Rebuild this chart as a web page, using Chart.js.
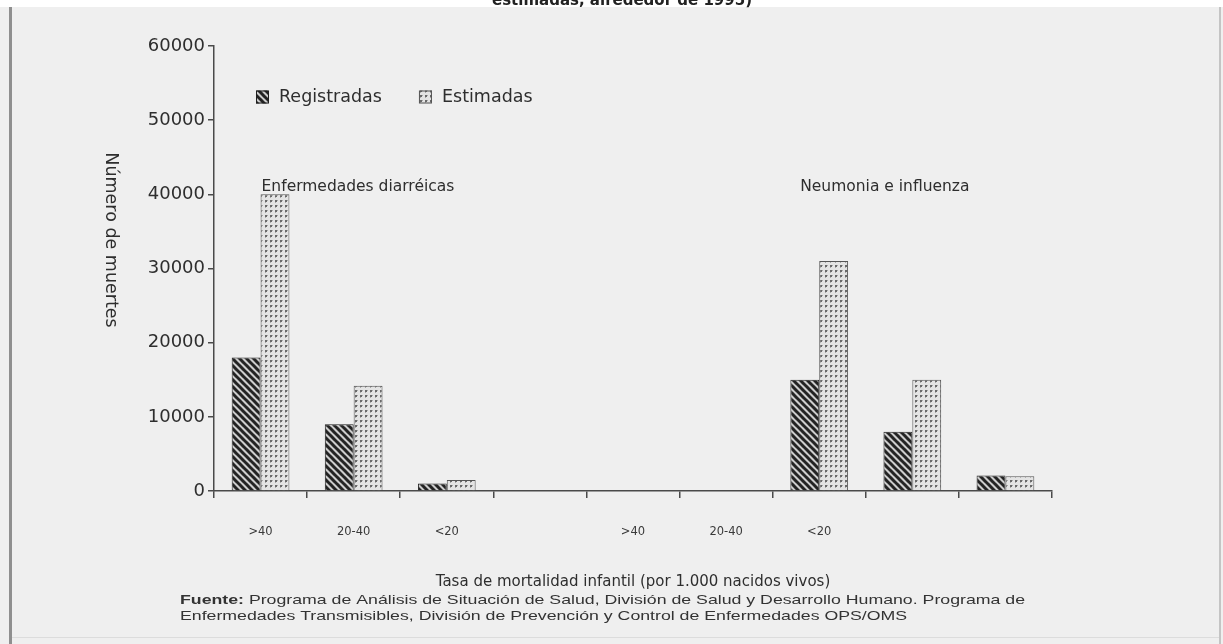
<!DOCTYPE html>
<html>
<head>
<meta charset="utf-8">
<script src="https://cdn.jsdelivr.net/npm/chart.js@4.4.0/dist/chart.umd.min.js"></script>
<style>
  html, body { margin: 0; padding: 0; background: #efefef; overflow: hidden; }
  canvas { display: block; }
</style>
</head>
<body>
<canvas id="c" width="1223" height="644"></canvas>
<script>
// Infant mortality bands for each disease group, with an empty gap between groups
const categories = ['Diarreicas >40', 'Diarreicas 20-40', 'Diarreicas <20', 'gap1', 'gap2', 'gap3',
                    'Neumonía >40', 'Neumonía 20-40', 'Neumonía <20'];
const tickLabels = ['>40', '20-40', '<20', '', '>40', '20-40', '<20', '', ''];
const registradas = [18000, 9000, 1000, null, null, null, 15000, 8000, 2100];
const estimadas   = [40000, 14200, 1500, null, null, null, 31000, 15000, 2000];
const seriesNames = ['Registradas', 'Estimadas'];
const groupNames  = ['Enfermedades diarréicas', 'Neumonia e influenza'];
const yTickValues = [0, 10000, 20000, 30000, 40000, 50000, 60000];

const titleText  = 'estimadas, alrededor de 1995)';
const yTitleText = 'Número de muertes';
const xTitleText = 'Tasa de mortalidad infantil (por 1.000 nacidos vivos)';
const sourceBold = 'Fuente:';
const sourceLine1 = ' Programa de Análisis de Situación de Salud, División de Salud y Desarrollo Humano. Programa de';
const sourceLine2 = 'Enfermedades Transmisibles, División de Prevención y Control de Enfermedades OPS/OMS';

const FONT = "'DejaVu Sans', sans-serif";
const NARROW = "'Liberation Sans', Arial, sans-serif";
const INK = '#2e2e2e';
const AXIS = '#4a4a4a';

const canvas = document.getElementById('c');
const mainCtx = canvas.getContext('2d');

// Diagonal hatching for recorded deaths
function stripePattern() {
  const s = 7;
  const t = document.createElement('canvas');
  t.width = t.height = s;
  const g = t.getContext('2d');
  g.fillStyle = '#cdcdcd';
  g.fillRect(0, 0, s, s);
  g.strokeStyle = '#232323';
  g.lineWidth = 3;
  for (const k of [-1, 0, 1]) {
    g.beginPath();
    g.moveTo(k * s - 1, -1);
    g.lineTo(k * s + s + 1, s + 1);
    g.stroke();
  }
  return mainCtx.createPattern(t, 'repeat');
}

// Fine dot screen for estimated deaths
function dotPattern() {
  const s = 5;
  const t = document.createElement('canvas');
  t.width = t.height = s;
  const g = t.getContext('2d');
  g.fillStyle = '#e4e4e4';
  g.fillRect(0, 0, s, s);
  g.fillStyle = '#6a6a6a';
  g.fillRect(0, 0, 2, 2);
  g.fillStyle = '#a8a8a8';
  g.fillRect(2, 0, 1, 1);
  g.fillRect(0, 2, 1, 1);
  return mainCtx.createPattern(t, 'repeat');
}

const hatch = stripePattern();
const dots = dotPattern();

const pagePlugin = {
  id: 'page',
  beforeDraw(chart) {
    const { ctx, width, height } = chart;
    ctx.save();
    ctx.fillStyle = '#efefef';
    ctx.fillRect(0, 0, width, height);
    ctx.fillStyle = '#ffffff';
    ctx.fillRect(0, 0, width, 7);
    ctx.fillStyle = '#8f8f8f';
    ctx.fillRect(9, 7, 3, height - 7);
    ctx.fillStyle = '#c4c4c4';
    ctx.fillRect(1219, 7, 2, height - 7);
    ctx.fillStyle = '#dcdcdc';
    ctx.fillRect(12, 637, 1207, 1);
    ctx.restore();
  },
  afterDraw(chart) {
    const { ctx, chartArea, scales } = chart;
    ctx.save();

    // Heading, cut off by the page top
    ctx.fillStyle = '#222';
    ctx.font = 'bold 15px ' + FONT;
    ctx.textAlign = 'center';
    ctx.textBaseline = 'alphabetic';
    ctx.fillText(titleText, 622, 5);

    // Vertical axis title, reading downwards
    ctx.save();
    ctx.translate(111, 240);
    ctx.rotate(Math.PI / 2);
    ctx.fillStyle = INK;
    ctx.font = '17.5px ' + FONT;
    ctx.textAlign = 'center';
    ctx.textBaseline = 'middle';
    ctx.fillText(yTitleText, 0, 0);
    ctx.restore();

    // Legend inside the plot
    ctx.font = '17.5px ' + FONT;
    ctx.textAlign = 'left';
    ctx.textBaseline = 'middle';
    let lx = chartArea.left + 42;
    const ly = 97;
    chart.data.datasets.forEach(ds => {
      ctx.fillStyle = ds.backgroundColor;
      ctx.fillRect(lx, ly - 6.5, 13, 13);
      ctx.strokeStyle = ds.borderColor;
      ctx.lineWidth = 1;
      ctx.strokeRect(lx + 0.5, ly - 6, 12, 12);
      ctx.fillStyle = INK;
      ctx.fillText(ds.label, lx + 23, ly);
      lx += 23 + ctx.measureText(ds.label).width + 37;
    });

    // Disease group captions above each cluster of bars
    ctx.font = '15.5px ' + FONT;
    ctx.fillStyle = INK;
    const gy = scales.y.getPixelForValue(41000);
    ctx.fillText(groupNames[0], scales.x.getPixelForValue(0) + 1, gy);
    ctx.fillText(groupNames[1], scales.x.getPixelForValue(6) - 19, gy);

    // Source note
    ctx.textBaseline = 'middle';
    ctx.font = 'bold 13px ' + NARROW;
    const bw = ctx.measureText(sourceBold).width;
    ctx.font = '13px ' + NARROW;
    const w1 = bw + ctx.measureText(sourceLine1).width;
    const sx = 845 / w1;
    ctx.save();
    ctx.translate(180, 600);
    ctx.scale(sx, 1);
    ctx.fillStyle = '#333';
    ctx.font = 'bold 13px ' + NARROW;
    ctx.fillText(sourceBold, 0, 0);
    ctx.font = '13px ' + NARROW;
    ctx.fillText(sourceLine1, bw, 0);
    ctx.fillText(sourceLine2, 0, 16);
    ctx.restore();

    ctx.restore();
  }
};

new Chart(canvas, {
  type: 'bar',
  data: {
    labels: categories,
    datasets: [
      {
        label: seriesNames[0],
        data: registradas,
        backgroundColor: hatch,
        borderColor: '#1e1e1e',
        borderWidth: 1,
        barPercentage: 1,
        categoryPercentage: 0.62
      },
      {
        label: seriesNames[1],
        data: estimadas,
        backgroundColor: dots,
        borderColor: '#555555',
        borderWidth: 1,
        barPercentage: 1,
        categoryPercentage: 0.62
      }
    ]
  },
  options: {
    responsive: false,
    animation: false,
    devicePixelRatio: 1,
    layout: { padding: { left: 0, top: 46, right: 171, bottom: 53 } },
    plugins: {
      legend: { display: false },
      tooltip: { enabled: false },
      title: { display: false }
    },
    scales: {
      x: {
        offset: true,
        grid: {
          display: true,
          drawOnChartArea: false,
          offset: true,
          tickLength: 7,
          color: AXIS,
          lineWidth: 1.5
        },
        border: { display: true, color: AXIS, width: 1.5 },
        ticks: {
          autoSkip: false,
          maxRotation: 0,
          padding: 27,
          color: '#3a3a3a',
          font: { family: FONT, size: 11.5 },
          callback: (v, i) => tickLabels[i]
        },
        title: {
          display: true,
          text: xTitleText,
          color: INK,
          font: { family: FONT, size: 15 },
          padding: { top: 0, bottom: 0 }
        },
        afterFit: s => { s.height = 100; }
      },
      y: {
        min: yTickValues[0],
        max: yTickValues[yTickValues.length - 1],
        afterBuildTicks: s => { s.ticks = yTickValues.map(v => ({ value: v })); },
        grid: {
          drawOnChartArea: false,
          tickLength: 6,
          color: AXIS,
          lineWidth: 1.5
        },
        border: { display: true, color: AXIS, width: 1.5 },
        ticks: {
          padding: 3,
          color: INK,
          font: { family: FONT, size: 18 },
          callback: v => String(v)
        },
        afterFit: s => { s.width = 214; }
      }
    }
  },
  plugins: [pagePlugin]
});
</script>
</body>
</html>
